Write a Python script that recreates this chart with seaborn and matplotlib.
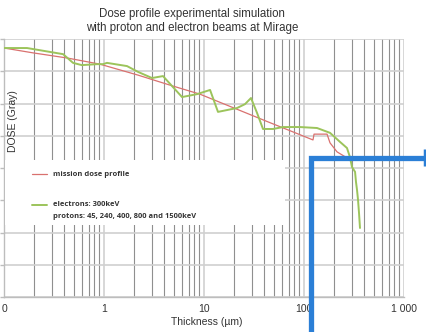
import numpy as np
import pandas as pd
import matplotlib
matplotlib.use("Agg")
import matplotlib.pyplot as plt
from matplotlib.lines import Line2D
from matplotlib.patches import Rectangle
from matplotlib.ticker import FixedLocator, LogLocator, NullFormatter
import seaborn as sns

# Mission dose profile (thickness in µm, dose in grid units)
mission_thickness = [0.1, 0.195, 0.43, 0.91, 2.19, 4.9, 9.1, 43.7, 123, 126, 170, 182, 214, 302]
mission_dose = [7.72, 7.57, 7.41, 7.22, 6.88, 6.54, 6.29, 5.43, 4.87, 5.05, 5.05, 4.78, 4.50, 4.22]

# Simulated beam combination (electrons 300 keV + protons)
beam_thickness = [0.1, 0.17, 0.39, 0.49, 0.60, 0.85, 0.98, 1.07, 1.70, 2.19, 3.02, 3.89,
                  6.03, 8.51, 11.5, 13.8, 21.4, 25.7, 29.5, 33.9, 38.9, 49, 61.7, 91.2,
                  135, 182, 229, 269, 288, 302, 324, 331, 339, 347, 355, 363]
beam_dose = [7.72, 7.72, 7.53, 7.26, 7.19, 7.22, 7.22, 7.26, 7.16, 6.98, 6.79, 6.85,
             6.20, 6.29, 6.42, 5.74, 5.86, 5.98, 6.17, 5.71, 5.21, 5.21, 5.27, 5.27,
             5.24, 5.09, 4.81, 4.62, 4.34, 4.03, 3.88, 3.57, 3.32, 3.01, 2.60, 2.14]

x_major = [0.1, 1, 10, 100, 1000]
x_labels = ["0", "1", "10", "100", "1 000"]

title_lines = ["Dose profile experimental simulation", "with proton and electron beams at Mirage"]
mission_label = "mission dose profile"
beam_label_lines = ["electrons: 300keV", "protons: 45, 240, 400, 800 and 1500keV"]

sns.set_theme(style="white")
plt.rcParams["font.family"] = ["Liberation Sans", "DejaVu Sans"]

W, H = 426, 332
fig = plt.figure(figsize=(W / 100, H / 100), dpi=100)
ax = fig.add_axes([4 / W, (H - 297) / H, 400 / W, 258 / H])

red = "#d9716f"
green = "#9cc45b"

mission = pd.DataFrame({"thickness": mission_thickness, "dose": mission_dose})
beams = pd.DataFrame({"thickness": beam_thickness, "dose": beam_dose})

sns.lineplot(data=mission, x="thickness", y="dose", color=red, lw=0.9,
             sort=False, estimator=None, ax=ax, zorder=4)
sns.lineplot(data=beams, x="thickness", y="dose", color=green, lw=1.4,
             sort=False, estimator=None, ax=ax, zorder=5)

ax.set_xscale("log")
ax.set_xlim(0.1, 1000)
ax.set_ylim(0, 8)

ax.xaxis.set_major_locator(FixedLocator(x_major))
ax.set_xticklabels(x_labels)
ax.xaxis.set_minor_locator(LogLocator(base=10, subs=np.arange(2, 10)))
ax.xaxis.set_minor_formatter(NullFormatter())
ax.yaxis.set_major_locator(FixedLocator(np.arange(0, 9)))
ax.set_yticklabels([])

ax.grid(which="major", axis="x", color="#d4d4d4", lw=1.3, zorder=1)
ax.grid(which="minor", axis="x", color="#8f8f8f", lw=0.8, zorder=1)
ax.grid(which="major", axis="y", color="#d0d0d0", lw=1.2, zorder=1)
ax.set_axisbelow(True)

for side in ["top", "right"]:
    ax.spines[side].set_visible(False)
for side in ["left", "bottom"]:
    ax.spines[side].set_color("#bdbdbd")
    ax.spines[side].set_linewidth(1.0)

ax.tick_params(axis="y", which="major", left=True, length=3, color="#bdbdbd", width=1)
ax.tick_params(axis="x", which="both", bottom=False, length=0, labelsize=7.5, pad=5,
               colors="#333333")

ax.set_xlabel("Thickness (µm)", fontsize=7.5, color="#333333")
ax.set_ylabel("DOSE (Gray)", fontsize=7.5, color="#333333")
ax.yaxis.set_label_coords(0.036, 1 - (121 - 39) / 258)
ax.xaxis.set_label_coords((207 - 4) / 400, -(317 - 297) / 258)

# Legend panel
def fx(px):
    return px / W

def fy(py):
    return 1 - py / H

fig.patches.append(Rectangle((fx(5), fy(225)), fx(280), 65 / H, transform=fig.transFigure,
                             facecolor="white", edgecolor="none", zorder=3))
fig.lines.append(Line2D([fx(32), fx(47)], [fy(174), fy(174)], color=red, lw=0.9,
                        transform=fig.transFigure, zorder=4))
fig.lines.append(Line2D([fx(32), fx(47)], [fy(205), fy(205)], color=green, lw=1.4,
                        transform=fig.transFigure, zorder=4))
leg_font = dict(fontsize=5.4, fontweight="bold", color="#333333",
                family=["Open Sans", "DejaVu Sans"], va="center", ha="left", zorder=5)
fig.text(fx(53), fy(174.5), mission_label, **leg_font)
fig.text(fx(53), fy(204), beam_label_lines[0], **leg_font)
fig.text(fx(53), fy(217), beam_label_lines[1], **leg_font)

# Title
fig.text(fx(192), fy(14), title_lines[0], fontsize=8.3, ha="center", va="center", color="#333333")
fig.text(fx(192), fy(28), title_lines[1], fontsize=8.3, ha="center", va="center", color="#333333")

# Blue bracket overlay
blue = "#2b7fd6"
fig.lines.append(Line2D([fx(311), fx(311), fx(425)], [fy(332), fy(157.5), fy(157.5)],
                        color=blue, lw=3.8, solid_joinstyle="miter", solid_capstyle="butt",
                        transform=fig.transFigure, zorder=10))
fig.lines.append(Line2D([fx(424.5), fx(424.5)], [fy(149), fy(166)], color=blue, lw=2.5,
                        solid_capstyle="butt", transform=fig.transFigure, zorder=10))

fig.savefig("out.png", dpi=100)
